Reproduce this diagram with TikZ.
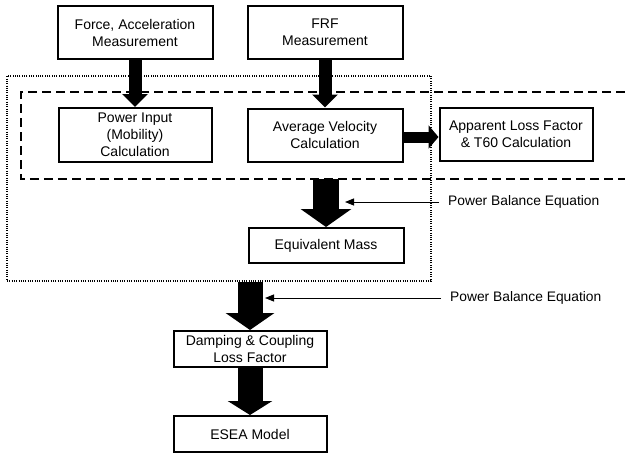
\documentclass[tikz,border=0pt]{standalone}
\usepackage{fontspec}
\setmainfont{Liberation Sans}
\usetikzlibrary{arrows.meta,positioning,fit}

\begin{document}
\begin{tikzpicture}[x=1pt, y=-1pt]
				\tikzstyle{Block} 	= [draw, line width=2pt, align=center, inner sep=0pt, font=\fontsize{14}{17}\selectfont]
				\tikzstyle{Wide}	= [minimum width=153pt, minimum height=53pt]
				\tikzstyle{Flat}	= [minimum width=153pt, minimum height=36pt]
				\tikzstyle{Loop}	= [line width=1.8pt, dash pattern=on 9pt off 5pt]
				\tikzstyle{Outer}	= [draw, line width=1.2pt, dash pattern=on 1pt off 1.3pt, minimum width=424pt, minimum height=205pt, inner sep=0pt]
				\tikzstyle{Pipe}	= [line width=13pt, -{Triangle[width=25pt,length=13pt]}]
				\tikzstyle{FatPipe}	= [line width=25pt, -{Triangle[width=48pt,length=17pt]}]
				\tikzstyle{Hint}	= [line width=0.9pt, -{Triangle[width=7pt,length=9pt]}]
				\tikzstyle{Note}	= [anchor=west, inner sep=1pt, font=\fontsize{13.8}{16}\selectfont]

				\useasboundingbox (0,0) rectangle (625,453);

				\node (outer) at (219, 178.5) [Outer] {};

				\coordinate (dtr) at (625, 92);
				\coordinate (dtl) at (21, 92);
				\coordinate (dbl) at (21, 179);
				\coordinate (dbr) at (625, 179);
				\draw (dtr) -- (dtl) -- (dbl) -- (dbr) [Loop];

				\node (force) at (135, 32.5) [Block][Wide, minimum width=155pt] {Force, Acceleration\\Measurement};

				\node (frf) at (325, 32.5) [Block][Wide, minimum width=155pt] {FRF\\Measurement};

				\node (power) at (135, 135) [Block][Wide, minimum height=54pt] {Power Input\\(Mobility)\\Calculation};

				\node (velo) at (325, 135) [Block][Wide, minimum width=155pt] {Average Velocity\\Calculation};

				\node (loss) at (516, 134) [Block][Wide] {Apparent Loss Factor\\\& T60 Calculation};

				\node (mass) at (326, 245.5) [Block][Flat, minimum width=155pt, minimum height=35pt] {Equivalent Mass};

				\node (damp) at (250, 349) [Block][Flat] {Damping \& Coupling\\Loss Factor};

				\node (esea) at (250, 434) [Block][Flat] {ESEA Model};

				\node (pbe1) at (447, 202) [Note] {Power Balance Equation};
				\coordinate (tip1) at (345, 202);

				\node (pbe2) at (449, 298) [Note] {Power Balance Equation};
				\coordinate (tip2) at (265, 298);

				\draw [Pipe] (force.south) -- (power.north);
				\draw [Pipe] (frf.south) -- (frf.south |- velo.north);
				\draw [Pipe, line width=11pt, -{Triangle[width=23pt,length=10pt]}] ([yshift=-2pt]velo.east) -- ([yshift=-2pt]velo.east -| loss.west);
				\draw [FatPipe, line width=26pt, -{Triangle[width=50pt,length=18pt]}] (dbl -| mass.north) -- (mass.north);
				\draw [FatPipe] (outer.south -| damp.north) -- (damp.north);
				\draw [FatPipe, -{Triangle[width=44pt,length=14pt]}] (damp.south) -- (esea.north);

				\draw [Hint, shorten <=8pt] (pbe1.west) -- (tip1);
				\draw [Hint, shorten <=8pt] (pbe2.west) -- (tip2);
			\end{tikzpicture}
\end{document}
